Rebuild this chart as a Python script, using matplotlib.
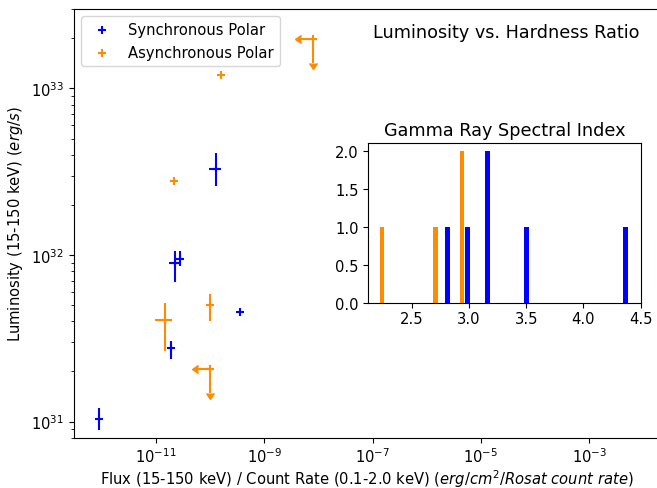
import numpy as np
import matplotlib
matplotlib.use("Agg")
import matplotlib.pyplot as plt

# Synchronous polars: hardness ratio, luminosity and errors
sync_ratio = [9.0e-13, 1.91e-11, 2.27e-11, 2.77e-11, 3.53e-10, 1.26e-10]
sync_lum = [1.03e31, 2.77e31, 8.96e31, 9.51e31, 4.54e31, 3.27e32]
sync_ratio_err = [0, 0, 0.55e-11, 0, 0, 0.3e-10]
sync_lum_lo = [0.14e31, 0.40e31, 2.07e31, 0.90e31, 0, 0.68e32]
sync_lum_hi = [0.17e31, 0.29e31, 1.66e31, 1.06e31, 0, 0.85e32]

# Asynchronous polars (measured points)
async_ratio = [1.58e-10, 2.17e-11, 1.0e-10, 1.47e-11]
async_lum = [1.21e33, 2.77e32, 4.99e31, 4.05e31]
async_ratio_err = [0, 0, 0, 0.5e-11]
async_lum_lo = [0, 0, 0.98e31, 1.38e31]
async_lum_hi = [0, 0, 0.82e31, 1.13e31]

# Asynchronous polars (upper limits)
lim_ratio = [7.9e-9, 1.0e-10]
lim_lum = [1.98e33, 2.07e31]

# Gamma ray spectral index histogram
sync_index = [2.81, 2.99, 3.16, 3.50, 4.37]
sync_counts = [1, 1, 2, 1, 1]
async_index = [2.24, 2.71, 2.94]
async_counts = [1, 1, 2]

blue = "blue"
orange = "darkorange"

plt.rcParams["font.size"] = 10.6
plt.rcParams["xtick.major.pad"] = 2.5

fig = plt.figure(figsize=(6.57, 4.89), dpi=100)
ax = fig.add_axes([0.112, 0.1028, 0.894, 0.8767])

ax.scatter(sync_ratio, sync_lum, marker="+", color=blue, label="Synchronous Polar")
ax.scatter(async_ratio, async_lum, marker="+", color=orange, label="Asynchronous Polar")
ax.scatter(lim_ratio, lim_lum, marker="+", color=orange)

ax.errorbar(sync_ratio, sync_lum, xerr=sync_ratio_err,
            yerr=[sync_lum_lo, sync_lum_hi], fmt="none", ecolor=blue)
ax.errorbar(async_ratio, async_lum, xerr=async_ratio_err,
            yerr=[async_lum_lo, async_lum_hi], fmt="none", ecolor=orange)
ax.errorbar(lim_ratio, lim_lum, xerr=0.4 * np.array(lim_ratio),
            yerr=0.28 * np.array(lim_lum), fmt="none", ecolor=orange,
            color=orange, uplims=True, xuplims=True)

ax.set_xscale("log")
ax.set_yscale("log")
ax.set_xlim(3e-13, 2.1e-2)
ax.set_ylim(8e30, 3e33)
ax.xaxis.set_minor_locator(matplotlib.ticker.NullLocator())
ax.set_xlabel(r"Flux (15-150 keV) / Count Rate (0.1-2.0 keV) ($erg/cm^2/Rosat\ count\ rate$)",
              labelpad=2)
ax.set_ylabel(r"Luminosity (15-150 keV) ($erg/s$)")
ax.text(0.737, 0.946, "Luminosity vs. Hardness Ratio", transform=ax.transAxes,
        ha="center", va="center", fontsize=12.7)
ax.legend(loc="upper left")

inset = fig.add_axes([0.5606, 0.3783, 0.4146, 0.3272])
inset.bar(sync_index, sync_counts, width=0.042, color=blue)
inset.bar(async_index, async_counts, width=0.038, color=orange)
inset.set_xlim(2.122, 4.5)
inset.set_title("Gamma Ray Spectral Index", fontsize=12.7)

fig.savefig("out.png", dpi=100)
